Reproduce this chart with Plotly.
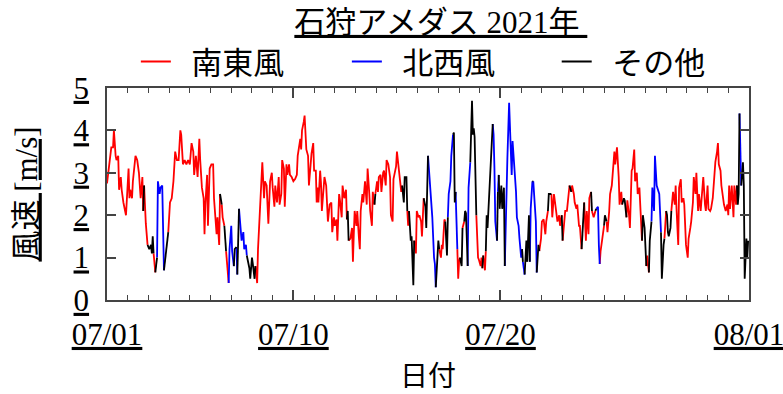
import pandas as pd
import plotly.graph_objects as go

# hourly wind speed at Ishikari AMeDAS, July 2021 (hours since 2021-07-01 00:00)
hours = [
    0, 3, 5, 7, 8, 10, 11, 13, 14, 16,
    17, 19, 21, 22, 25, 26, 27, 29, 30, 33,
    35, 37, 39, 41, 42, 43, 45, 47, 49, 51,
    52, 53, 54, 56, 58, 59, 61, 62, 64, 65,
    66, 68, 71, 73, 75, 77, 79, 81, 83, 85,
    86, 88, 90, 92, 94, 96, 98, 100, 101, 103,
    105, 107, 108, 110, 112, 113, 114, 116, 117, 118,
    119, 121, 123, 124, 126, 127, 128, 130, 131, 133,
    134, 136, 138, 139, 141, 142, 144, 145, 147, 148,
    150, 151, 153, 154, 156, 158, 159, 161, 162, 165,
    166, 168, 169, 171, 172, 174, 175, 177, 178, 180,
    182, 183, 185, 187, 189, 191, 192, 194, 195, 197,
    199, 200, 202, 203, 205, 206, 208, 209, 211, 212,
    214, 216, 218, 220, 221, 223, 224, 225, 226, 228,
    229, 231, 233, 234, 236, 237, 239, 240, 242, 243,
    244, 245, 247, 248, 249, 251, 252, 254, 255, 256,
    258, 260, 261, 263, 264, 266, 267, 269, 270, 272,
    273, 275, 277, 278, 279, 280, 282, 284, 285, 286,
    287, 289, 290, 292, 293, 294, 296, 297, 299, 301,
    302, 304, 305, 307, 308, 310, 311, 313, 314, 315,
    317, 318, 320, 321, 323, 324, 326, 328, 329, 331,
    332, 334, 335, 336, 338, 339, 341, 342, 344, 345,
    347, 348, 349, 350, 352, 353, 355, 356, 358, 359,
    361, 362, 364, 365, 367, 369, 370, 372, 374, 375,
    377, 379, 380, 381, 383, 384, 385, 387, 388, 389,
    391, 392, 394, 395, 396, 398, 399, 401, 402, 403,
    404, 406, 407, 408, 409, 411, 412, 414, 415, 416,
    418, 419, 421, 423, 424, 425, 426, 427, 428, 430,
    431, 433, 434, 435, 436, 438, 439, 440, 441, 443,
    444, 446, 447, 448, 449, 450, 452, 453, 454, 455,
    457, 458, 460, 461, 462, 464, 466, 468, 469, 470,
    472, 474, 475, 477, 478, 480, 481, 482, 484, 485,
    486, 487, 489, 490, 491, 493, 494, 496, 497, 498,
    500, 501, 503, 504, 506, 508, 509, 511, 512, 513,
    515, 516, 518, 519, 521, 522, 524, 525, 527, 528,
    530, 531, 533, 535, 536, 538, 539, 541, 542, 544,
    545, 547, 548, 550, 552, 553, 555, 556, 557, 558,
    559, 561, 562, 564, 566, 567, 569, 570, 571, 572,
    574, 576, 577, 579, 580, 582, 583, 585, 586, 588,
    589, 591, 593, 594, 596, 597, 599, 600, 602, 603,
    605, 606, 608, 609, 611, 612, 614, 615, 617, 618,
    620, 621, 623, 625, 626, 628, 629, 631, 632, 634,
    635, 637, 639, 640, 642, 643, 645, 646, 648, 649,
    650, 651, 653, 654, 656, 658, 659, 660, 662, 663,
    665, 666, 668, 669, 671, 673, 674, 676, 677, 679,
    680, 682, 683, 685, 686, 688, 690, 691, 693, 694,
    696, 697, 699, 700, 702, 703, 705, 707, 708, 709,
    711, 712, 714, 715, 717, 719, 720, 721, 722, 724,
    726, 727, 729, 730, 731, 732, 733, 734, 735, 737,
    738, 739, 741, 742, 743,
]

speed = [
    2.75, 3.3, 3.6, 3.6, 4.0, 3.4, 3.3, 3.4, 2.6, 2.9,
    2.6, 2.3, 2.1, 2.0, 3.1, 2.4, 2.6, 2.4, 2.8, 3.4,
    3.3, 3.0, 2.4, 2.9, 2.1, 2.7, 1.8, 1.3, 1.2, 1.3,
    1.1, 1.5, 1.1, 0.65, 1.0, 2.8, 2.5, 2.65, 2.7, 1.8,
    0.7, 1.1, 1.6, 2.3, 2.4, 2.8, 3.5, 3.3, 3.3, 4.0,
    3.9, 3.2, 3.3, 3.2, 3.3, 3.2, 3.7, 3.5, 2.95, 3.4,
    2.9, 3.8, 3.3, 2.65, 2.4, 1.55, 2.25, 2.95, 1.75, 2.7,
    3.1, 3.2, 3.2, 2.4, 1.85, 1.55, 1.95, 1.3, 2.5, 2.25,
    1.95, 1.75, 1.15, 0.85, 0.4, 1.2, 1.75, 1.15, 0.8, 1.2,
    1.25, 0.6, 2.15, 1.95, 1.4, 1.6, 1.2, 1.3, 1.05, 0.75,
    0.5, 1.0, 0.85, 0.5, 0.8, 0.4, 1.2, 1.95, 2.65, 3.25,
    2.4, 2.8, 2.7, 1.8, 2.8, 3.0, 2.65, 2.2, 2.7, 2.3,
    2.9, 2.25, 2.5, 3.3, 3.1, 2.2, 3.2, 2.95, 3.2, 2.95,
    2.9, 2.8, 2.85, 2.95, 3.4, 3.7, 3.8, 3.55, 4.0, 4.2,
    4.35, 3.55, 3.4, 2.7, 3.4, 3.45, 3.7, 3.05, 3.05, 2.3,
    2.65, 2.3, 3.05, 2.75, 2.1, 2.85, 2.9, 2.7, 2.3, 1.85,
    2.25, 2.3, 1.6, 1.95, 1.75, 1.9, 1.4, 2.5, 2.35, 1.95,
    2.7, 2.4, 2.6, 1.9, 2.1, 1.4, 1.45, 1.7, 0.9, 1.55,
    2.1, 1.75, 2.1, 1.45, 1.2, 2.1, 2.5, 2.3, 2.8, 2.25,
    3.1, 2.5, 2.1, 1.75, 2.55, 2.25, 2.5, 2.8, 2.55, 2.9,
    2.95, 2.55, 3.0, 3.05, 2.7, 3.3, 3.2, 2.9, 2.0, 1.85,
    2.85, 3.1, 3.15, 3.5, 3.05, 2.95, 2.55, 2.7, 2.3, 2.9,
    2.9, 2.1, 1.75, 2.1, 1.4, 1.5, 0.35, 1.4, 1.1, 2.1,
    1.95, 2.0, 1.85, 1.5, 2.4, 2.2, 1.7, 3.4, 2.8, 2.65,
    1.95, 1.0, 0.85, 0.3, 1.0, 1.4, 1.2, 1.0, 1.3, 1.2,
    1.9, 1.85, 1.05, 1.95, 2.5, 2.8, 3.4, 3.9, 3.95, 2.3,
    2.55, 1.2, 0.5, 0.9, 1.0, 0.8, 1.7, 1.85, 2.1, 2.05,
    0.8, 2.65, 3.25, 4.7, 3.9, 4.05, 3.85, 2.3, 2.0, 1.0,
    0.95, 0.8, 1.0, 0.75, 1.05, 0.7, 1.15, 2.0, 1.7, 2.5,
    3.1, 3.75, 4.15, 3.9, 3.1, 1.85, 1.4, 2.55, 2.95, 2.15,
    2.7, 2.15, 2.65, 0.8, 1.95, 3.35, 4.65, 3.6, 2.95, 3.75,
    3.2, 2.55, 1.95, 1.75, 1.45, 1.0, 1.2, 0.9, 0.6, 1.05,
    1.4, 0.9, 2.0, 0.9, 2.15, 2.8, 2.8, 2.1, 1.85, 0.65,
    1.3, 1.15, 1.45, 1.85, 1.9, 1.55, 1.85, 2.1, 2.5, 2.5,
    2.5, 1.95, 2.5, 2.3, 1.95, 1.85, 2.0, 1.75, 2.0, 1.4,
    1.85, 2.1, 2.1, 2.65, 2.7, 2.55, 2.7, 2.5, 2.3, 2.15,
    2.25, 1.75, 1.75, 1.2, 2.0, 2.3, 1.4, 2.1, 1.85, 1.55,
    2.4, 2.55, 2.1, 1.95, 2.1, 2.15, 2.2, 1.3, 0.85, 1.15,
    1.45, 1.75, 2.0, 1.85, 1.6, 2.1, 2.5, 2.7, 3.05, 3.5,
    3.2, 3.6, 2.9, 2.25, 2.55, 2.25, 2.4, 2.35, 1.95, 2.35,
    2.0, 1.7, 3.05, 3.1, 3.55, 2.8, 3.0, 2.5, 2.65, 2.25,
    1.4, 2.0, 1.7, 0.8, 1.05, 0.65, 1.4, 1.85, 2.65, 2.1,
    3.4, 2.7, 2.55, 2.5, 1.6, 0.5, 1.3, 1.45, 2.1, 2.0,
    1.6, 1.5, 1.7, 2.1, 2.55, 2.25, 2.7, 2.15, 1.3, 2.65,
    2.85, 2.3, 2.4, 2.25, 1.3, 1.0, 1.45, 1.7, 1.85, 2.3,
    2.9, 2.5, 3.0, 2.1, 2.5, 2.1, 2.7, 2.9, 2.25, 2.1,
    2.7, 2.15, 2.1, 2.15, 2.4, 2.7, 3.25, 3.5, 3.7, 3.2,
    3.05, 2.7, 2.4, 2.25, 2.1, 2.25, 2.0, 2.7, 2.15, 2.7,
    1.95, 2.7, 2.25, 2.7, 2.25, 2.5, 4.4, 3.35, 2.7, 3.25,
    2.7, 0.5, 1.45, 1.0, 1.4,
]

# wind direction class: R = 南東風 (SE), B = 北西風 (NW), K = その他 (other)
direction = (
    "RRRRRRRRRR" "RRRRRRRRRR" "RRRRRKRRKK" "KKKRKBBBBB" "BKKRRRRRRR"
    "RRRRRRRRRR" "RRRRRRRRRR" "RRRRRRRRRK" "RRKRRBBBBK" "KBKBBBBBBK"
    "KKKKKRRRRR" "RRRRRRRRRR" "RRRRRRRRRR" "RRRRRRRRRR" "RRRRRRRRRR"
    "RRRRRRRRRR" "RRRRRRRRRR" "RRRRKKRRRR" "RRRRRRRRRR" "RRRRRRKRRR"
    "RRRRRRRRRR" "RRRRRRRRKK" "KKRRKKKKRR" "RRRRRKKKBB" "BBBBKKKRRR"
    "RRKKBBBBKK" "KBRRRKKRKK" "KBBKKKKKKR" "RRRRKRRKKK" "KKKBBBBKBK"
    "KKKKBBBBBB" "BBBBBBBKBK" "KKKKBBKBBB" "KKRRRRRRKK" "KRRRRRRRRK"
    "RRRRRKRRRR" "RRRRKKRRRR" "RRKRRKBBBR" "RRKKRRRRRR" "RRRRRRKKKR"
    "RRRRRRRRRR" "RKKKRRKKBB" "BBBBBKKKRK" "KKKKRRRRRR" "RRRRRRRRRR"
    "RRRRRRRRRR" "RRRRRRRRRR" "RRRRRRRRRR" "RRRRKKKBBK" "KKKKK"
)

assert len(hours) == len(speed) == len(direction)

classes = ["R", "B", "K"]
class_names = {"R": "南東風", "B": "北西風", "K": "その他"}
class_colors = {"R": "#ff0000", "B": "#0000ff", "K": "#000000"}
class_legend = {"R": "legend", "B": "legend2", "K": "legend3"}

start = pd.Timestamp("2021-07-01")
times = [start + pd.Timedelta(hours=h) for h in hours]

FONT = "Liberation Serif, Noto Sans CJK JP, serif"
AXC = "#444444"

fig = go.Figure()
n = len(hours)
for code in classes:
    xs, ys = [], []
    i = 0
    while i < n:
        if direction[i] == code:
            j = i
            while j + 1 < n and direction[j + 1] == code:
                j += 1
            s = max(i - 1, 0)
            xs += times[s:j + 1] + [None]
            ys += speed[s:j + 1] + [None]
            i = j + 1
        else:
            i += 1
    fig.add_trace(go.Scatter(
        x=xs, y=ys, mode="lines", connectgaps=False,
        name="\u00a0\u00a0" + class_names[code],
        legend=class_legend[code],
        line=dict(color=class_colors[code], width=1.8),
    ))

major_dates = ["2021-07-01", "2021-07-10", "2021-07-20", "2021-08-01"]
major_labels = ["07/01", "07/10", "07/20", "08/01"]
y_ticks = [0, 1, 2, 3, 4, 5]


def legend_box(xpos):
    return dict(orientation="h", xref="container", x=xpos, xanchor="left",
                yref="container", y=0.843, yanchor="middle",
                bgcolor="rgba(0,0,0,0)", font=dict(size=31))


fig.update_layout(
    width=783, height=394,
    margin=dict(l=107, r=34, t=88, b=94, autoexpand=False),
    paper_bgcolor="white", plot_bgcolor="white",
    font=dict(family=FONT, size=30, color="black"),
    title=dict(text="<u>石狩アメダス 2021年\u00a0</u>", x=0.52, xref="paper",
               xanchor="center", y=0.944, yref="container", yanchor="middle",
               font=dict(size=31)),
    legend=legend_box(0.1735),
    legend2=legend_box(0.443),
    legend3=legend_box(0.711),
    showlegend=True,
)
fig.update_xaxes(
    type="date", range=[start, pd.Timestamp("2021-08-01")],
    tickvals=major_dates, ticktext=[f"<u>{t}</u>" for t in major_labels],
    ticks="inside", ticklen=10, tickwidth=1.5, tickcolor=AXC,
    showline=True, linecolor=AXC, linewidth=1.5, mirror="ticks",
    showgrid=False, zeroline=False, ticklabelstandoff=6, automargin=False,
    ticklabeloverflow="allow",
    tickfont=dict(size=31),
    minor=dict(ticks="inside", ticklen=5, dtick=86400000, tick0="2021-07-01",
               tickcolor=AXC, tickwidth=1.2, showgrid=False),
    title=dict(text="日付", standoff=15, font=dict(size=28)),
)
fig.update_yaxes(
    range=[0, 5], tickvals=y_ticks, ticktext=[f"<u>{v}</u>" for v in y_ticks],
    ticks="inside", ticklen=9, tickwidth=1.5, tickcolor=AXC,
    showline=True, linecolor=AXC, linewidth=1.5, mirror="ticks",
    showgrid=False, zeroline=False, ticklabelstandoff=10, automargin=False,
    ticklabeloverflow="allow",
    tickfont=dict(size=31),
    title=dict(text="<u>風速 [m/s]</u>", standoff=27, font=dict(size=31)),
)

fig.write_html("out.html", config={"displayModeBar": False},
               post_script="document.body.style.margin='0';")
